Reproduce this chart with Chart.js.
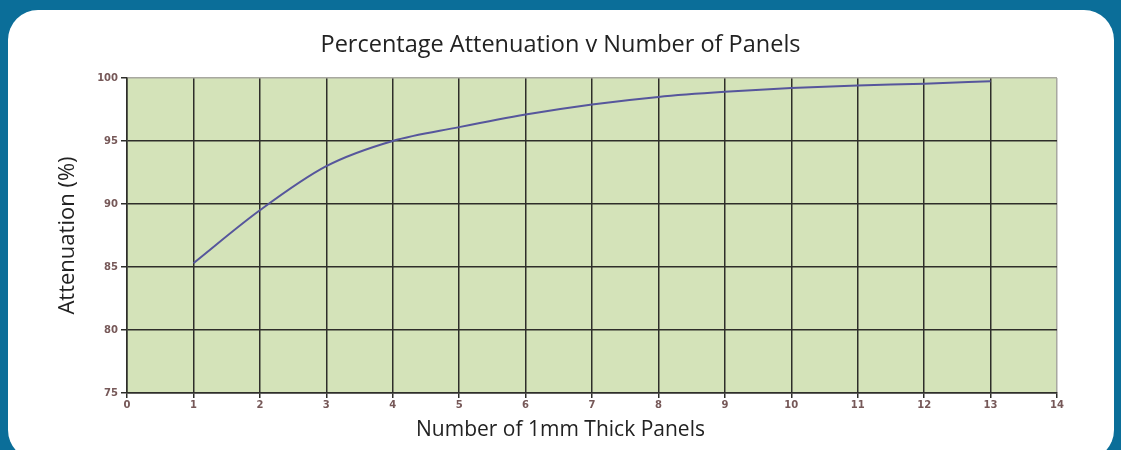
<!DOCTYPE html>
<html>
<head>
<meta charset="utf-8">
<script src="https://cdn.jsdelivr.net/npm/chart.js@4"></script>
<style>
  html, body { margin: 0; padding: 0; }
  body { width: 1121px; height: 450px; background: #0b6e99; overflow: hidden; position: relative; }
  #panel { position: absolute; left: 8px; top: 10px; width: 1106px; height: 450px; background: #fff; border-radius: 30px; }
  #c { position: absolute; left: 0; top: 0; }
</style>
</head>
<body>
<div id="panel"></div>
<canvas id="c" width="1121" height="450"></canvas>
<script>
// panels vs attenuation
const panels = [1, 2, 3, 4, 5, 6, 7, 8, 9, 10, 11, 12, 13];
const attenuation = [85.3, 89.5, 93.0, 95.0, 96.1, 97.1, 97.9, 98.5, 98.9, 99.2, 99.4, 99.55, 99.75];

const titleText = "Percentage Attenuation v Number of Panels";
const xTitle = "Number of 1mm Thick Panels";
const yTitle = "Attenuation (%)";

// green plot background
const plotFill = {
    id: "plotFill",
    beforeDraw(chart) {
        const { ctx, chartArea: a } = chart;
        ctx.save();
        ctx.fillStyle = "#d4e3b9";
        ctx.fillRect(a.left, a.top, a.right - a.left, a.bottom - a.top);
        ctx.restore();
    }
};

const tickFont = { family: "DejaVu Sans", size: 10, weight: "bold" };
const gridDark = "#2e2e2a";
const labelColor = "#765858";

new Chart(document.getElementById("c"), {
    type: "line",
    data: {
        datasets: [{
            data: panels.map((p, i) => ({ x: p, y: attenuation[i] })),
            borderColor: "#56569c",
            borderWidth: 2,
            pointRadius: 0,
            cubicInterpolationMode: "monotone",
            fill: false
        }]
    },
    options: {
        responsive: false,
        animation: false,
        plugins: {
            legend: { display: false },
            tooltip: { enabled: false },
            title: {
                display: true,
                text: titleText,
                color: "#222",
                font: { family: "Open Sans", size: 23.5, weight: "normal", lineHeight: 1.2 },
                padding: { top: 31, bottom: 18.8 }
            },
            // x axis title sits centred on the whole panel, like the original
            subtitle: {
                display: true,
                position: "bottom",
                text: xTitle,
                color: "#222",
                font: { family: "Open Sans", size: 21, weight: "normal", lineHeight: 1.2 },
                padding: { top: 4, bottom: 7 }
            }
        },
        scales: {
            x: {
                type: "linear",
                min: 0,
                max: 14,
                afterFit: (s) => { s.height = 57 - (25.2 + 11); },
                ticks: { stepSize: 1, color: labelColor, font: tickFont, padding: 1, maxRotation: 0 },
                grid: {
                    color: (c) => c.tick && c.tick.value === 14 ? "#a8a8a0" : gridDark,
                    tickColor: gridDark,
                    lineWidth: 1.5,
                    tickLength: 5
                },
                border: { color: gridDark, width: 1.5 }
            },
            y: {
                min: 75,
                max: 100,
                afterFit: (s) => { s.width = 127; },
                ticks: { stepSize: 5, color: labelColor, font: tickFont, padding: 3 },
                grid: {
                    color: (c) => c.tick && c.tick.value === 100 ? "#a8a8a0" : gridDark,
                    tickColor: gridDark,
                    lineWidth: 1.5,
                    tickLength: 6
                },
                border: { color: gridDark, width: 1.5 },
                title: {
                    display: true,
                    text: yTitle,
                    color: "#222",
                    font: { family: "Open Sans", size: 22, lineHeight: 1.2 },
                    padding: { top: 55, bottom: 0 }
                }
            },
            // empty right-hand axis, only reserves the margin right of the plot
            yRight: {
                position: "right",
                afterFit: (s) => { s.width = 64; },
                grid: { display: false },
                ticks: { display: false },
                border: { display: false }
            }
        }
    },
    plugins: [plotFill]
});
</script>
</body>
</html>
